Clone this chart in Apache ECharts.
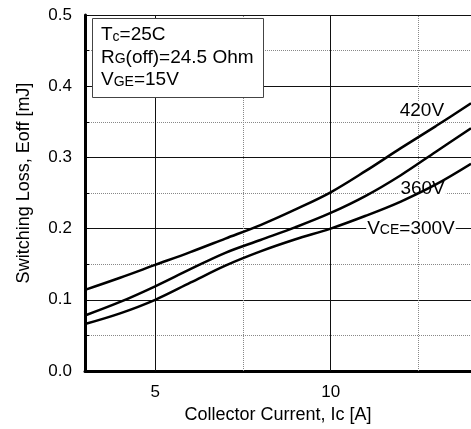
<!DOCTYPE html>
<html>
<head>
<meta charset="utf-8">
<script src="https://cdn.jsdelivr.net/npm/echarts@6/dist/echarts.min.js"></script>
<style>
  html, body { margin: 0; padding: 0; background: #fff; }
  #chart { width: 471px; height: 429px; }
</style>
</head>
<body>
<div id="chart"></div>
<script>
// collector current [A]
var current = [3, 4, 5, 6, 7, 8, 9, 10, 11, 12, 13, 14];
// switching loss Eoff [mJ]
var loss420 = [0.114, 0.131, 0.149, 0.167, 0.186, 0.205, 0.227, 0.251, 0.281, 0.313, 0.344, 0.376];
var loss360 = [0.078, 0.097, 0.119, 0.143, 0.166, 0.184, 0.202, 0.222, 0.246, 0.275, 0.308, 0.341];
var loss300 = [0.066, 0.081, 0.100, 0.124, 0.148, 0.168, 0.185, 0.200, 0.218, 0.238, 0.262, 0.291];
var xTicks = [5, 10];
var xMinorLines = [7.5, 12.5];

var font = "Liberation Sans, Arial, sans-serif";

function pairs(ys) {
    return current.map(function (x, i) { return [x, ys[i]]; });
}

var subStyle = { fontSize: 14, fontFamily: font, color: '#000', padding: [3, 0, 0, 0] };

// curve label placed in data coords
function curveLabel(x, y, text) {
    return {
        silent: true,
        symbol: 'rect',
        symbolSize: 1,
        itemStyle: { color: 'rgba(0,0,0,0)' },
        data: [{ coord: [x, y] }],
        label: {
            show: true, position: 'inside', formatter: text,
            color: '#000', fontSize: 19, fontFamily: font,
            backgroundColor: '#fff', padding: [0, 1],
            rich: { s: subStyle }
        }
    };
}

var lineStyle = { color: '#000', width: 2.5 };

var myChart = echarts.init(document.getElementById('chart'));
var option = {
    animation: false,
    backgroundColor: '#fff',
    grid: { left: 85, top: 15, right: -7, bottom: 56 },
    title: {
        left: 92, top: 18,
        padding: [6, 10, 6, 9],
        borderWidth: 1, borderColor: '#444', backgroundColor: '#fff',
        text: 'T{s|c}=25C\nR{s|G}(off)=24.5 Ohm\nV{s|GE}=15V',
        textStyle: {
            fontSize: 19, fontWeight: 'normal', fontFamily: font, color: '#000', lineHeight: 22.5,
            rich: { s: subStyle }
        }
    },
    xAxis: {
        type: 'value', min: 3, max: 14,
        name: 'Collector Current, Ic [A]', nameLocation: 'middle', nameGap: 35,
        nameTextStyle: { fontSize: 18, fontFamily: font, color: '#000' },
        axisLine: { lineStyle: { color: '#000', width: 3 } },
        axisTick: { show: false },
        splitLine: { show: false },
        axisLabel: { customValues: xTicks, fontSize: 17, fontFamily: font, color: '#000', margin: 13 }
    },
    yAxis: {
        type: 'value', min: 0, max: 0.5, interval: 0.1,
        name: 'Switching Loss, Eoff [mJ]', nameLocation: 'middle', nameGap: 52,
        nameTextStyle: { fontSize: 18, fontFamily: font, color: '#000', padding: [0, 0, 0, 20] },
        axisLine: { show: true, lineStyle: { color: '#000', width: 3 } },
        axisTick: { show: true, inside: true, length: 4, lineStyle: { color: '#000' } },
        minorTick: { show: true, splitNumber: 2, length: 4, lineStyle: { color: '#000' } },
        axisLabel: {
            fontSize: 17, fontFamily: font, color: '#000', margin: 13,
            formatter: function (v) { return v.toFixed(1); }
        },
        splitLine: { show: true, lineStyle: { color: '#111', width: 1 } },
        minorSplitLine: { show: true, lineStyle: { color: '#888', width: 1, type: [1, 1] } }
    },
    series: [
        {
            name: '420V', type: 'line', smooth: 0.35, symbol: 'none',
            lineStyle: lineStyle, data: pairs(loss420), z: 5,
            markLine: {
                silent: true, symbol: 'none', label: { show: false },
                data: xTicks.map(function (v) {
                    return { xAxis: v, lineStyle: { color: '#111', width: 1, type: 'solid' } };
                }).concat(xMinorLines.map(function (v) {
                    return { xAxis: v, lineStyle: { color: '#888', width: 1, type: [1, 1] } };
                }))
            },
            markPoint: curveLabel(12.6, 0.365, '420V')
        },
        {
            name: '360V', type: 'line', smooth: 0.35, symbol: 'none',
            lineStyle: lineStyle, data: pairs(loss360), z: 5,
            markPoint: curveLabel(12.62, 0.256, '360V')
        },
        {
            name: '300V', type: 'line', smooth: 0.35, symbol: 'none',
            lineStyle: lineStyle, data: pairs(loss300), z: 5,
            markPoint: curveLabel(12.29, 0.200, 'V{s|CE}=300V')
        }
    ]
};
myChart.setOption(option);
</script>
</body>
</html>
